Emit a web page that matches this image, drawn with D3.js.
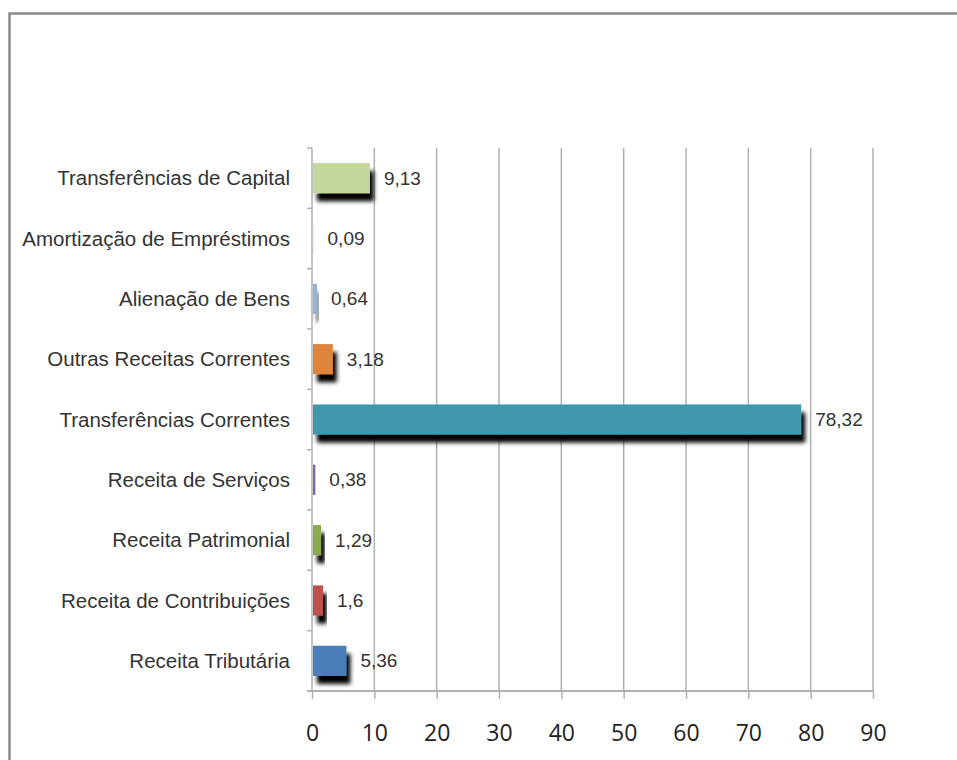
<!DOCTYPE html>
<html>
<head>
<meta charset="utf-8">
<script src="https://cdn.jsdelivr.net/npm/d3@7"></script>
<style>
body { margin: 0; background: #fff; }
svg { display: block; }
</style>
</head>
<body>
<div id="vis-div"></div>
<script>
'use strict'

const categories = ["Transferências de Capital", "Amortização de Empréstimos", "Alienação de Bens",
	"Outras Receitas Correntes", "Transferências Correntes", "Receita de Serviços",
	"Receita Patrimonial", "Receita de Contribuições", "Receita Tributária"]
const values = [9.13, 0.09, 0.64, 3.18, 78.32, 0.38, 1.29, 1.6, 5.36]
const barColors = ["#c3d69b", "#f2f2f2", "#95b3d7", "#e0843a", "#4198af", "#8064a2", "#8aab4e", "#c0504d", "#4a7ebb"]
const xTicks = [0, 10, 20, 30, 40, 50, 60, 70, 80, 90]

let width = 957, height = 760
let margin = {left: 312, right: 84, top: 148, bottom: 69}
let labelFmt = function(v){ return String(v).replace(".", ",") }

let svg = d3.select("#vis-div").append("svg")
	.attr("width", width)
	.attr("height", height)

// frame of the chart area
svg.append("path")
	.attr("d", "M9.5," + height + " V13.5 H" + width)
	.attr("fill", "none")
	.attr("stroke", "#8a8a8a")
	.attr("stroke-width", 2.5)

let defs = svg.append("defs")
let shadow = defs.append("filter").attr("id", "shadow")
	.attr("x", "-20%").attr("y", "-20%").attr("width", "160%").attr("height", "180%")
shadow.append("feOffset").attr("in", "SourceAlpha").attr("dx", 4).attr("dy", 8).attr("result", "off")
shadow.append("feGaussianBlur").attr("in", "off").attr("stdDeviation", 2.2).attr("result", "blur")
let merge = shadow.append("feMerge")
merge.append("feMergeNode").attr("in", "blur")
merge.append("feMergeNode").attr("in", "SourceGraphic")

let x = d3.scaleLinear().domain([0, 90]).range([margin.left, width - margin.right])
let y = d3.scaleBand().domain(categories).range([margin.top, height - margin.bottom]).paddingInner(0.5).paddingOuter(0.25)
let yb = d3.scaleBand().domain(categories).range([margin.top, height - margin.bottom])

// vertical gridlines
svg.append("g")
	.selectAll("line")
	.data(xTicks.slice(1))
	.join("line")
	.attr("x1", d => x(d)).attr("x2", d => x(d))
	.attr("y1", margin.top).attr("y2", height - margin.bottom)
	.attr("stroke", "#b0b0b0")
	.attr("stroke-width", 1.5)

// bottom axis
let xAxis = svg.append("g")
	.attr("transform", "translate(0," + (height - margin.bottom) + ")")
	.call(d3.axisBottom(x).tickValues(xTicks).tickSize(8).tickSizeOuter(0).tickPadding(26))
xAxis.select(".domain").attr("stroke", "#b0b0b0").attr("stroke-width", 2)
	.attr("d", "M" + (margin.left - 5) + ",0H" + (width - margin.right))
xAxis.selectAll(".tick line").attr("stroke", "#b0b0b0").attr("stroke-width", 1.5)
xAxis.selectAll("text")
	.attr("fill", "#222")
	.style("font-family", "'Open Sans', sans-serif")
	.style("font-size", "23px")

// left axis with boundary ticks
let yAxis = svg.append("g")
svg.append("line")
	.attr("x1", margin.left).attr("x2", margin.left)
	.attr("y1", margin.top).attr("y2", height - margin.bottom)
	.attr("stroke", "#b0b0b0").attr("stroke-width", 1.5)
yAxis.selectAll("line")
	.data(categories)
	.join("line")
	.attr("x1", margin.left - 5).attr("x2", margin.left)
	.attr("y1", d => yb(d)).attr("y2", d => yb(d))
	.attr("stroke", "#b0b0b0").attr("stroke-width", 1.5)

// category labels
svg.append("g")
	.selectAll("text")
	.data(categories)
	.join("text")
	.attr("x", margin.left - 22)
	.attr("y", d => yb(d) + yb.bandwidth() / 2)
	.attr("dy", "0.35em")
	.attr("text-anchor", "end")
	.attr("fill", "#333")
	.style("font-family", "'Liberation Sans', Arial, sans-serif")
	.style("font-size", "20.5px")
	.text(d => d)

// bars
svg.append("g")
	.selectAll("rect")
	.data(values)
	.join("rect")
	.attr("x", x(0) + 1)
	.attr("y", (d, i) => y(categories[i]))
	.attr("width", d => Math.max(x(d) - x(0), 1.5))
	.attr("height", y.bandwidth())
	.attr("fill", (d, i) => barColors[i])
	.attr("filter", "url(#shadow)")

// value labels
svg.append("g")
	.selectAll("text")
	.data(values)
	.join("text")
	.attr("x", d => x(d) + 15)
	.attr("y", (d, i) => yb(categories[i]) + yb.bandwidth() / 2)
	.attr("dy", "0.35em")
	.attr("fill", "#333")
	.style("font-family", "'Liberation Sans', Arial, sans-serif")
	.style("font-size", "19px")
	.text(d => labelFmt(d))
</script>
</body>
</html>
